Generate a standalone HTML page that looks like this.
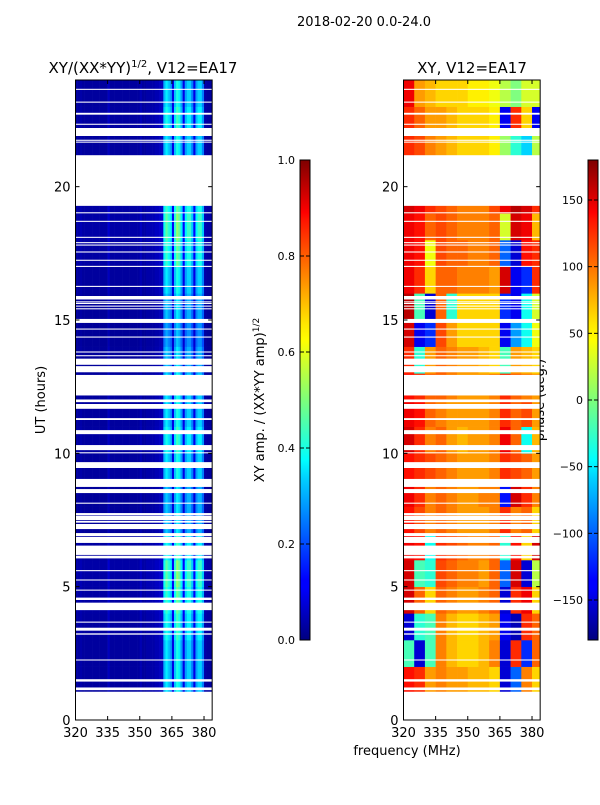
<!DOCTYPE html>
<html><head><meta charset="utf-8"><style>
html,body{margin:0;padding:0;background:#fff;}
svg text{font-family:"DejaVu Sans","Liberation Sans",sans-serif;fill:#000;}
</style></head><body>
<svg id="fig" width="600" height="800" viewBox="0 0 600 800" xmlns="http://www.w3.org/2000/svg">
<text x="364" y="26" font-size="13" text-anchor="middle">2018-02-20 0.0-24.0</text>
<text x="143" y="73" font-size="15" text-anchor="middle">XY/(XX*YY)<tspan font-size="10" dy="-6">1/2</tspan><tspan dy="6">, V12=EA17</tspan></text>
<text x="472" y="73" font-size="15" text-anchor="middle">XY, V12=EA17</text>
<text x="0" y="0" font-size="13" text-anchor="middle" transform="translate(45,400) rotate(-90)">UT (hours)</text>
<text x="407" y="755" font-size="13" text-anchor="middle">frequency (MHz)</text>
<text x="0" y="0" font-size="13" text-anchor="middle" transform="translate(264,400) rotate(-90)">XY amp. / (XX*YY amp)<tspan font-size="9" dy="-5">1/2</tspan></text>
<text x="0" y="0" font-size="13" text-anchor="middle" transform="translate(544,400) rotate(-90)">phase (deg.)</text>
<defs>
<linearGradient id="jet" x1="0" y1="1" x2="0" y2="0">
<stop offset="0" stop-color="#00007f"/><stop offset="0.11" stop-color="#0000ff"/><stop offset="0.125" stop-color="#0000ff"/><stop offset="0.34" stop-color="#00d4ff"/><stop offset="0.375" stop-color="#0ff"/><stop offset="0.5" stop-color="#7dff7a"/><stop offset="0.625" stop-color="#ff0"/><stop offset="0.66" stop-color="#ffe600"/><stop offset="0.875" stop-color="#ff1400"/><stop offset="0.89" stop-color="#f00"/><stop offset="1" stop-color="#7f0000"/>
</linearGradient>
</defs>
<g id="ampPanel"></g>
<g id="phasePanel"></g>
<g id="axes"></g>
</svg>
<script>
// ---- data ----
const hours = [0,1,2,3,4,5,6,7,8,9,10,11,12,13,14,15,16,17,18,19,20,21,22,23];
const phaseFreqBins = [320,325,330,335,340,345,350,355,360,365,370,375,380];
const phaseRows = [
[null,null,null,null,null,null,null,null,null,null,null,null,null],
[130,120,80,90,80,80,70,70,60,-150,-100,90,60],
[-20,-150,-20,90,70,60,60,70,90,-150,120,-120,100],
[-150,-30,-20,90,70,60,60,70,80,-140,-160,120,100],
[150,100,60,100,90,80,80,90,100,-150,120,140,60],
[150,-20,-30,110,100,90,90,80,100,-100,150,-150,20],
[140,130,-40,120,110,100,90,90,100,-30,130,60,150],
[130,110,90,100,90,80,80,80,90,120,90,100,60],
[140,120,90,100,90,80,80,90,90,-130,150,120,90],
[130,120,110,100,90,80,80,80,90,120,110,100,80],
[150,120,90,100,80,70,80,80,90,140,100,-40,70],
[140,130,100,90,80,80,80,80,90,120,100,110,80],
[130,120,100,100,90,80,80,80,90,120,100,90,80],
[120,-30,80,100,90,80,80,70,60,-20,80,70,60],
[150,-140,-120,110,80,60,60,60,60,-140,-80,-40,40],
[160,-20,-150,100,-30,60,60,60,60,-120,-140,-40,30],
[140,120,60,100,100,90,90,90,80,150,-140,-120,120],
[140,130,40,110,100,100,90,90,100,-100,-150,130,120],
[140,130,100,110,100,90,90,90,100,30,150,140,70],
[150,140,120,110,100,90,90,90,110,140,160,150,120],
[150,140,120,110,100,90,90,90,110,140,160,150,120],
[120,110,90,80,70,60,60,60,50,10,-30,-60,20],
[120,100,80,80,70,60,60,60,50,-140,120,60,-140],
[140,80,70,60,60,60,50,50,40,20,0,30,30]
];
const ampChanStart = 320;
const ampChan = [0.03,0.03,0.04,0.03,0.03,0.03,0.03,0.03,0.03,0.03,0.03,0.03,0.03,0.03,0.03,0.06,0.03,0.03,0.03,0.03,
0.03,0.03,0.03,0.03,0.03,0.03,0.03,0.03,0.03,0.03,0.05,0.03,0.03,0.04,0.04,0.04,0.04,0.05,0.05,0.06,
0.06,0.30,0.36,0.32,0.28,0.10,0.32,0.40,0.36,0.28,0.10,0.28,0.33,0.33,0.25,0.10,0.28,0.33,0.33,0.25,0.04,0.03,0.03,0.03];
const ampHourFactor = [0,1.0,1.0,1.1,1.2,1.3,1.1,0.9,0.9,1.0,1.1,1.0,1.0,0.9,0.8,0.9,1.0,1.2,1.3,1.2,1.2,1.0,1.1,1.0];
const gaps = [[0,1.06],[1.12,1.22],[1.44,1.53],[2.23,2.27],[3.2,3.25],[3.35,3.46],[3.65,3.69],[4.12,4.4],[4.5,4.59],[4.85,4.89],[5.23,5.27],[5.58,5.62],
[6.06,6.16],[6.19,6.54],[6.64,6.87],[6.9,7.01],[7.16,7.35],[7.4,7.47],[7.5,7.66],[7.68,7.76],[8.11,8.15],[8.51,8.66],[8.74,9.04],[9.45,9.67],[10.0,10.04],[10.12,10.31],[10.72,10.87],[11.25,11.32],[11.67,11.85],[11.92,12.02],[12.17,12.94],[13.04,13.27],[13.32,13.55],[13.64,13.68],[13.78,13.82],[14.34,14.38],[14.64,14.68],[14.89,15.04],[15.4,15.44],[15.5,15.54],[15.6,15.64],[15.66,15.7],[15.77,15.9],[16.24,16.28],[16.99,17.03],[17.22,17.26],[17.53,17.57],[17.79,17.83],[17.88,17.92],[18.08,18.12],[18.68,18.72],[19.0,19.04],[19.28,21.18],[21.65,21.69],[21.72,21.76],[21.9,22.2],[22.32,22.36],[22.7,22.77],[23.15,23.19],[23.63,23.67]];
const yTicks = [0,5,10,15,20];
const xTicks = [320,335,350,365,380];
const ampCbTicks = [0.0,0.2,0.4,0.6,0.8,1.0];
const phaseCbTicks = [-150,-100,-50,0,50,100,150];

// ---- scales ----
const NS='http://www.w3.org/2000/svg';
const Y0=720, Y1=80;
const yS = h => Y0 - (h/24)*(Y0-Y1);
const PX = 2.142, FMAX=383.8;
const xL = f => 75.5 + (f-320)*PX;
const xR = f => 403.5 + (f-320)*PX;
function jet(t){t=Math.max(0,Math.min(1,t));const c=v=>Math.round(255*Math.max(0,Math.min(1,v)));
return `rgb(${c(1.5-Math.abs(4*t-3))},${c(1.5-Math.abs(4*t-2))},${c(1.5-Math.abs(4*t-1))})`;}
function mk(tag,attrs,parent){const e=document.createElementNS(NS,tag);for(const k in attrs)e.setAttribute(k,attrs[k]);parent.appendChild(e);return e;}

const ampG=document.getElementById('ampPanel'), phG=document.getElementById('phasePanel'), ax=document.getElementById('axes');
hours.forEach((h,i)=>{ if(!ampHourFactor[i]) return;
  ampChan.forEach((a,c)=>{const f0=ampChanStart+c, f1=Math.min(f0+1,FMAX);
    const r=mk('rect',{x:xL(f0),y:yS(h+1),width:xL(f1)-xL(f0)+0.3,height:yS(h)-yS(h+1)+0.3,fill:jet(a*ampHourFactor[i])},ampG);
    
    
  });
});
phaseRows.forEach((row,i)=>{const h=hours[i];
  row.forEach((p,c)=>{ if(p===null) return; const f0=phaseFreqBins[c], f1=c+1<phaseFreqBins.length?phaseFreqBins[c+1]:FMAX;
    const r=mk('rect',{x:xR(f0),y:yS(h+1),width:xR(f1)-xR(f0)+0.3,height:yS(h)-yS(h+1)+0.3,fill:jet((p+180)/360)},phG);
    
    
  });
});
gaps.forEach(g=>{
  [[xL,ampG],[xR,phG]].forEach(([xs,par])=>{
    const r=mk('rect',{x:xs(320),y:yS(g[1]),width:xs(FMAX)-xs(320),height:Math.max(1,yS(g[0])-yS(g[1])),fill:'#fff'},par);
    
    
  });
});
[[xL,'amp'],[xR,'phase']].forEach(([xs,nm])=>{
  const fr=mk('rect',{x:xs(320),y:Y1,width:xs(FMAX)-xs(320),height:Y0-Y1,fill:'none',stroke:'#000','stroke-width':1},ax);
  
  
  yTicks.forEach(t=>{const y=yS(t);
    mk('line',{x1:xs(320),x2:xs(320)+4,y1:y,y2:y,stroke:'#000'},ax);
    mk('line',{x1:xs(FMAX),x2:xs(FMAX)-4,y1:y,y2:y,stroke:'#000'},ax);
    const tx=mk('text',{x:xs(320)-5,y:y+5,'font-size':13,'text-anchor':'end'},ax);tx.textContent=t;
    
    
  });
  xTicks.forEach(t=>{const x=xs(t);
    mk('line',{x1:x,x2:x,y1:Y0,y2:Y0-4,stroke:'#000'},ax);
    mk('line',{x1:x,x2:x,y1:Y1,y2:Y1+4,stroke:'#000'},ax);
    const tx=mk('text',{x:x,y:Y0+17,'font-size':13,'text-anchor':'middle'},ax);tx.textContent=t;
    
    
  });
});
function colorbar(x,ticks,vmin,vmax,nm){
  const r=mk('rect',{x:x,y:160,width:10,height:480,fill:'url(#jet)',stroke:'#000','stroke-width':1},ax);
  
  
  ticks.forEach(t=>{const y=640-(t-vmin)/(vmax-vmin)*480;
    mk('line',{x1:x,x2:x+4,y1:y,y2:y,stroke:'#000'},ax);
    mk('line',{x1:x+10,x2:x+6,y1:y,y2:y,stroke:'#000'},ax);
    const tx=mk('text',{x:x-5,y:y+4,'font-size':11,'text-anchor':'end'},ax);
    tx.textContent = nm==='amp'? t.toFixed(1) : String(t).replace('-','\u2212');
    
    
  });
}
colorbar(300,ampCbTicks,0,1,'amp');
colorbar(588,phaseCbTicks,-180,180,'phase');
</script>
</body></html>
